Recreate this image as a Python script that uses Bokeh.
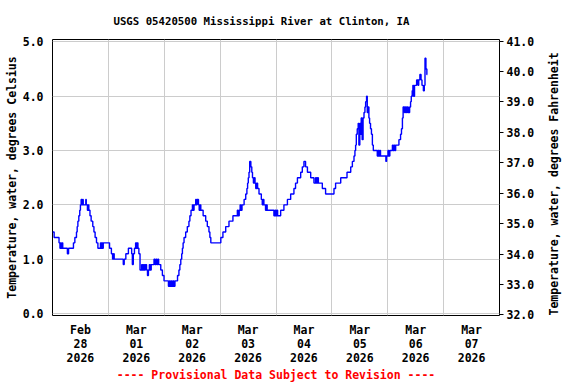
import math
from bokeh.plotting import figure
from bokeh.models import Range1d, LinearAxis, FixedTicker, NumeralTickFormatter
from bokeh.embed import file_html
from bokeh.resources import INLINE

# Hours since 2026-02-28 00:00 and water temperature (deg C)
hours = [0, 0.7, 2.8, 3.2, 3.5, 3.8, 4.1, 4.4, 6.4, 6.9, 9.0, 9.6, 10.3, 10.6, 10.9,
         11.3, 11.7, 12.0, 12.3, 12.6, 12.9, 13.2, 14.3, 14.5, 15.0, 15.3, 15.6, 16.1,
         16.6, 17.3, 17.8, 18.3, 18.9, 19.5, 20.6, 20.9, 21.2, 21.5, 21.8, 24.5, 25.3,
         25.8, 26.2, 26.5, 30.4, 30.8, 31.5, 32.6, 34.0, 34.3, 34.7, 35.2, 35.7, 36.0,
         36.3, 36.7, 37.1, 37.6, 38.3, 38.7, 39.1, 39.5, 39.9, 40.4, 40.8, 41.2, 41.6,
         42.0, 42.4, 43.6, 44.0, 44.4, 44.8, 45.2, 45.6, 46.5, 47.2, 47.9, 49.8, 50.2,
         50.6, 51.0, 51.4, 51.8, 52.2, 52.6, 53.7, 54.3, 54.7, 55.1, 55.5, 55.8, 56.1,
         56.5, 57.2, 57.9, 58.6, 59.0, 59.5, 60.1, 60.5, 60.8, 61.5, 61.8, 62.1, 62.7,
         63.0, 63.3, 63.7, 64.7, 65.8, 66.5, 67.2, 67.6, 68.0, 72.3, 73.2, 74.4, 75.8,
         77.5, 79.4, 79.8, 80.2, 80.6, 81.0, 81.4, 82.3, 83.0, 83.5, 83.8, 84.1, 84.4,
         84.7, 85.2, 85.6, 85.9, 86.3, 86.7, 87.0, 87.3, 87.7, 88.1, 88.7, 89.7, 90.1,
         90.4, 90.8, 91.5, 91.8, 92.2, 95.1, 95.5, 95.9, 96.3, 96.7, 98.0, 99.4, 100.9,
         102.3, 103.7, 104.4, 105.2, 106.6, 107.3, 108.0, 108.7, 109.5, 110.9, 112.3,
         113.0, 113.4, 113.8, 114.2, 115.9, 117.3, 120.9, 121.6, 123.8, 126.5, 128.1,
         128.8, 129.5, 129.9, 130.2, 130.5, 130.9, 131.3, 131.6, 132.0, 132.3, 132.6,
         133.0, 133.4, 133.8, 134.2, 134.5, 134.9, 135.2, 135.5, 135.9, 136.2, 136.6,
         137.0, 137.4, 137.8, 139.5, 139.8, 140.2, 140.5, 140.9, 143.2, 143.5, 144.1,
         144.5, 144.9, 146.0, 146.3, 146.7, 147.0, 147.4, 148.8, 149.5, 149.9, 150.3,
         150.6, 151.2, 151.6, 152.0, 152.4, 152.8, 153.4, 153.8, 154.1, 154.5, 154.8,
         155.1, 155.5, 156.4, 157.0, 157.3, 157.8, 158.3, 158.7, 159.3, 159.7, 160.0,
         160.4, 160.8, 161.0]
temp_c = [1.5, 1.4, 1.3, 1.2, 1.3, 1.2, 1.3, 1.2, 1.1, 1.2, 1.3, 1.4, 1.5, 1.6, 1.7,
          1.8, 1.9, 2.0, 2.1, 2.0, 2.1, 2.0, 2.1, 2.0, 1.9, 2.0, 1.9, 1.8,
          1.7, 1.6, 1.5, 1.4, 1.3, 1.2, 1.3, 1.2, 1.3, 1.2, 1.3, 1.2, 1.1,
          1.0, 1.1, 1.0, 0.9, 1.0, 1.1, 1.2, 1.1, 0.9, 1.1, 1.2, 1.3, 1.2,
          1.3, 1.2, 1.1, 0.8, 0.9, 0.8, 0.9, 0.8, 0.9, 0.8, 0.7, 0.8, 0.9,
          0.8, 0.9, 1.0, 0.9, 1.0, 0.9, 1.0, 0.9, 0.8, 0.7, 0.6, 0.5, 0.6,
          0.5, 0.6, 0.5, 0.6, 0.5, 0.6, 0.7, 0.8, 0.9, 1.0, 1.1, 1.2, 1.3,
          1.4, 1.5, 1.6, 1.7, 1.8, 1.9, 2.0, 1.9, 2.0, 2.1, 2.0, 2.1, 2.0,
          1.9, 2.0, 1.9, 1.8, 1.7, 1.6, 1.5, 1.4, 1.3, 1.4, 1.5, 1.6, 1.7,
          1.8, 1.9, 1.8, 1.9, 2.0, 1.9, 2.0, 2.1, 2.2, 2.3, 2.4, 2.5, 2.6,
          2.8, 2.7, 2.6, 2.5, 2.4, 2.5, 2.4, 2.3, 2.4, 2.3, 2.2, 2.1, 2.0,
          2.1, 2.0, 1.9, 2.0, 1.9, 1.8, 1.9, 1.8, 1.9, 1.8, 1.9, 2.0, 2.1,
          2.2, 2.3, 2.4, 2.5, 2.6, 2.7, 2.8, 2.7, 2.6, 2.5, 2.4,
          2.5, 2.4, 2.5, 2.4, 2.3, 2.2, 2.3, 2.4, 2.5, 2.6, 2.7,
          2.8, 2.9, 3.0, 3.1, 3.3, 3.4, 3.5, 3.1, 3.5, 3.3, 3.6,
          3.2, 3.6, 3.7, 3.8, 3.9, 4.0, 3.7, 3.8, 3.6, 3.5, 3.4,
          3.3, 3.1, 3.0, 2.9, 3.0, 2.9, 3.0, 2.9, 2.8, 2.9, 3.0,
          2.9, 3.0, 3.1, 3.0, 3.1, 3.0, 3.1, 3.2, 3.3, 3.4, 3.6,
          3.8, 3.7, 3.8, 3.7, 3.8, 3.7, 3.8, 3.9, 4.0, 4.1, 4.2,
          4.0, 4.2, 4.3, 4.2, 4.3, 4.4, 4.3, 4.2, 4.1, 4.2, 4.7,
          4.5, 4.4, 4.4]

tick_hours = [12, 36, 60, 84, 108, 132, 156, 180]
tick_labels = ["Feb\n28\n2026", "Mar\n01\n2026", "Mar\n02\n2026", "Mar\n03\n2026",
               "Mar\n04\n2026", "Mar\n05\n2026", "Mar\n06\n2026", "Mar\n07\n2026"]
grid_hours = [24, 48, 72, 96, 120, 144, 168]
c_ticks = [0, 1, 2, 3, 4, 5]
f_ticks = [32, 33, 34, 35, 36, 37, 38, 39, 40, 41]

title_text = "USGS 05420500 Mississippi River at Clinton, IA"
footer_text = "---- Provisional Data Subject to Revision ----"
left_label = "Temperature, water, degrees Celsius"
right_label = "Temperature, water, degrees Fahrenheit"

FONT = "DejaVu Sans Mono"

p = figure(width=576, height=384, x_range=Range1d(0, 192), y_range=Range1d(-0.037, 5.044),
           output_backend="svg", toolbar_location=None,
           min_border_left=52, min_border_right=77, min_border_top=39, min_border_bottom=68)
p.extra_y_ranges = {"F": Range1d(31.98, 41.05)}

p.outline_line_color = "black"
p.outline_line_width = 1
p.background_fill_color = "white"
p.border_fill_color = "white"

p.title.text = title_text
p.title.align = "left"
p.title.offset = 61
p.title.standoff = 23
p.title.text_font = FONT
p.title.text_font_style = "bold"
p.title.text_font_size = "10.7px"
p.title.text_color = "black"

p.step(hours, temp_c, mode="after", line_color="#0000ff", line_width=1.4)

# x axis
xa = p.xaxis[0]
xa.ticker = FixedTicker(ticks=tick_hours)
xa.major_label_overrides = {h: l for h, l in zip(tick_hours, tick_labels)}
xa.major_tick_out = 0
xa.major_tick_in = 0
xa.minor_tick_line_color = None
xa.axis_line_color = None
xa.major_label_standoff = 7
xa.major_label_text_font = FONT
xa.major_label_text_font_style = "bold"
xa.major_label_text_font_size = "11.5px"
xa.major_label_text_line_height = 1.0
xa.major_label_text_color = "black"
xa.axis_label = footer_text
xa.axis_label_text_color = "#ff0000"
xa.axis_label_text_font = FONT
xa.axis_label_text_font_style = "bold"
xa.axis_label_text_font_size = "11.5px"
xa.axis_label_standoff = 0

p.xgrid[0].ticker = FixedTicker(ticks=grid_hours)
p.xgrid[0].grid_line_color = "#cccccc"

# left axis
ya = p.yaxis[0]
ya.ticker = FixedTicker(ticks=c_ticks)
ya.formatter = NumeralTickFormatter(format="0.0")
ya.major_tick_out = 0
ya.major_tick_in = 0
ya.minor_tick_line_color = None
ya.axis_line_color = None
ya.major_label_standoff = 9
ya.major_label_text_font = FONT
ya.major_label_text_font_style = "bold"
ya.major_label_text_font_size = "11.5px"
ya.major_label_text_color = "black"
ya.axis_label = left_label
ya.axis_label_text_font = FONT
ya.axis_label_text_font_style = "bold"
ya.axis_label_text_font_size = "11.5px"
ya.axis_label_text_color = "black"
ya.axis_label_standoff = 1
p.ygrid[0].grid_line_color = "#cccccc"

# right axis
ra = LinearAxis(y_range_name="F", ticker=FixedTicker(ticks=f_ticks),
                formatter=NumeralTickFormatter(format="0.0"), axis_label=right_label)
ra.major_tick_out = 4
ra.major_tick_in = 0
ra.major_tick_line_color = "black"
ra.minor_tick_line_color = None
ra.axis_line_color = None
ra.major_label_standoff = 3
ra.major_label_text_font = FONT
ra.major_label_text_font_style = "bold"
ra.major_label_text_font_size = "11.5px"
ra.major_label_text_color = "black"
ra.axis_label_text_font = FONT
ra.axis_label_text_font_style = "bold"
ra.axis_label_text_font_size = "11.5px"
ra.axis_label_text_color = "black"
ra.axis_label_standoff = 17
try:
    ra.axis_label_orientation = math.pi / 2
except Exception:
    pass
try:
    ra.axis_label_align = "start"
except Exception:
    pass
p.add_layout(ra, "right")

open("out.html", "w").write(file_html(p, INLINE))
